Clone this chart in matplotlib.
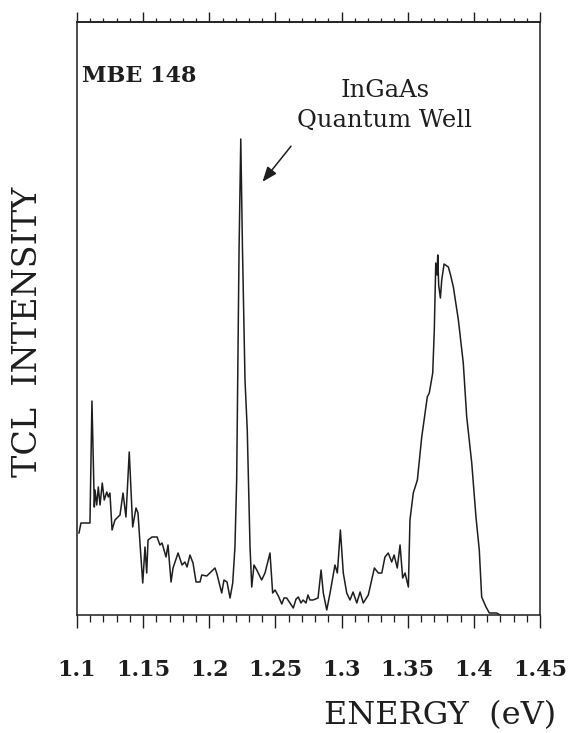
import matplotlib
matplotlib.use("Agg")
import matplotlib.pyplot as plt
from matplotlib.ticker import MultipleLocator

# TCL spectrum, MBE 148 (intensity in arbitrary units)
energy = [1.1015, 1.1030, 1.1098, 1.1113, 1.1131, 1.1136, 1.1149, 1.1161, 1.1174, 1.1191,
          1.1206, 1.1225, 1.1237, 1.1249, 1.1265, 1.1287, 1.1325, 1.1348, 1.1370, 1.1395,
          1.1421, 1.1446, 1.1461, 1.1476, 1.1497, 1.1514, 1.1527, 1.1537, 1.1567, 1.1605,
          1.1627, 1.1643, 1.1673, 1.1688, 1.1711, 1.1726, 1.1764, 1.1794, 1.1816, 1.1832,
          1.1854, 1.1877, 1.1900, 1.1930, 1.1943, 1.1981, 1.2043, 1.2056, 1.2094, 1.2111,
          1.2134, 1.2157, 1.2177, 1.2194, 1.2207, 1.2215, 1.2225, 1.2238, 1.2251, 1.2270,
          1.2287, 1.2308, 1.2321, 1.2338, 1.2359, 1.2396, 1.2421, 1.2459, 1.2479, 1.2497,
          1.2522, 1.2548, 1.2565, 1.2585, 1.2610, 1.2635, 1.2656, 1.2673, 1.2693, 1.2709,
          1.2731, 1.2746, 1.2761, 1.2784, 1.2822, 1.2845, 1.2862, 1.2888, 1.2913, 1.2950,
          1.2968, 1.2991, 1.3013, 1.3039, 1.3064, 1.3087, 1.3115, 1.3140, 1.3164, 1.3202,
          1.3248, 1.3278, 1.3304, 1.3328, 1.3353, 1.3379, 1.3397, 1.3421, 1.3442, 1.3462,
          1.3480, 1.3505, 1.3517, 1.3542, 1.3573, 1.3606, 1.3648, 1.3663, 1.3689, 1.3701,
          1.3712, 1.3722, 1.3727, 1.3734, 1.3747, 1.3757, 1.3775, 1.3807, 1.3824, 1.3845,
          1.3883, 1.3920, 1.3946, 1.3984, 1.4016, 1.4041, 1.4059, 1.4092, 1.4117, 1.4173,
          1.4198]
intensity = [82, 92, 92, 214, 108, 125, 110, 128, 110, 132,
             115, 123, 118, 122, 85, 95, 100, 122, 98, 163,
             88, 107, 102, 72, 32, 68, 42, 75, 78, 78,
             70, 72, 58, 70, 33, 47, 62, 50, 53, 48,
             60, 52, 33, 33, 40, 39, 47, 42, 22, 35,
             33, 17, 32, 68, 135, 235, 365, 476, 365, 235,
             185, 68, 28, 50, 45, 35, 42, 62, 22, 25,
             19, 11, 17, 17, 12, 7, 16, 18, 12, 15,
             12, 20, 15, 15, 17, 45, 22, 5, 22, 50,
             42, 85, 42, 22, 15, 23, 12, 23, 12, 20,
             47, 42, 42, 58, 62, 53, 60, 47, 70, 37,
             42, 28, 95, 122, 135, 178, 218, 222, 242, 285,
             352, 340, 360, 330, 317, 335, 351, 348, 340, 328,
             295, 252, 198, 152, 98, 65, 18, 8, 2, 2,
             0]

tick_vals = [1.1, 1.15, 1.2, 1.25, 1.3, 1.35, 1.4, 1.45]
tick_labels = ['1.1', '1.15', '1.2', '1.25', '1.3', '1.35', '1.4', '1.45']

serif = 'DejaVu Serif'
ink = '#1e1e1e'

fig = plt.figure(figsize=(5.7, 7.33), dpi=100)
ax = fig.add_axes([77 / 570, 118 / 733, 463 / 570, 593 / 733])

ax.plot(energy, intensity, color=ink, lw=1.1)
ax.set_xlim(1.1, 1.45)
ax.set_ylim(0, 593)

for s in ax.spines.values():
    s.set_linewidth(1.1)
    s.set_color(ink)

# bottom axis ticks + labels
ax.set_xticks(tick_vals)
ax.set_xticklabels(tick_labels, fontfamily=serif, fontweight='bold', fontsize=16, color=ink)
ax.xaxis.set_minor_locator(MultipleLocator(0.01))
ax.tick_params(axis='x', which='major', direction='out', length=9.5, width=1.0, pad=22, color=ink)
ax.tick_params(axis='x', which='minor', direction='out', length=5, width=0.9, color=ink)
ax.set_yticks([])

# top axis: same ticks, shorter, no labels
top = ax.secondary_xaxis('top')
top.set_xticks(tick_vals)
top.set_xticklabels([])
top.xaxis.set_minor_locator(MultipleLocator(0.01))
top.tick_params(which='major', direction='out', length=7.5, width=1.0, color=ink)
top.tick_params(which='minor', direction='out', length=3, width=0.9, color=ink)
top.spines['top'].set_linewidth(1.1)
top.spines['top'].set_color(ink)

ax.text(0.011, 0.899, 'MBE 148', transform=ax.transAxes, fontfamily=serif,
        fontweight='bold', fontsize=16, va='baseline', ha='left', color=ink)
ax.text(0.665, 0.8735, 'InGaAs', transform=ax.transAxes, fontfamily=serif,
        fontsize=17.5, va='baseline', ha='center', color=ink)
ax.text(0.665, 0.823, 'Quantum Well', transform=ax.transAxes, fontfamily=serif,
        fontsize=17.5, va='baseline', ha='center', color=ink)
ax.annotate('', xy=(1.2389, 431), xytext=(1.2631, 471),
            arrowprops=dict(arrowstyle='-|>,head_length=0.9,head_width=0.35',
                            color=ink, lw=1.1))

fig.text(28 / 570, 1 - 332 / 733, 'TCL  INTENSITY', rotation=90, fontfamily=serif,
         fontsize=24, ha='center', va='center', color=ink)
fig.text(556 / 570, 9 / 733, 'ENERGY  (eV)', fontfamily=serif,
         fontsize=23, ha='right', va='baseline', color=ink)

fig.savefig('out.png', dpi=100)
